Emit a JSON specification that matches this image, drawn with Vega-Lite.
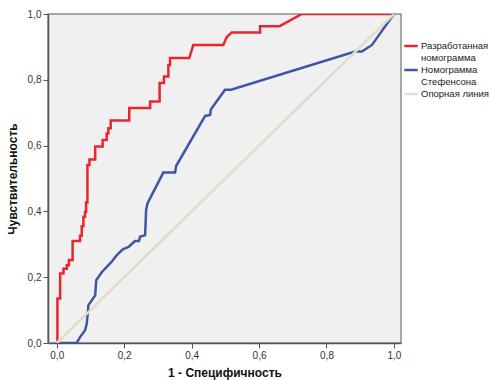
{
  "$schema": "https://vega.github.io/schema/vega-lite/v6.json",
  "width": 353,
  "height": 329,
  "autosize": {"type": "none"},
  "padding": {"left": 48, "top": 14, "right": 89, "bottom": 37},
  "background": "white",
  "config": {
    "font": "Liberation Sans",
    "view": {"fill": "#f0f0f0", "stroke": "#8c8c8c", "strokeWidth": 1.5},
    "axis": {
      "grid": false,
      "domainColor": "#555555",
      "domainWidth": 1.5,
      "tickColor": "#555555",
      "tickSize": 5,
      "labelFont": "Liberation Sans",
      "labelFontSize": 10,
      "labelColor": "#333333",
      "titleFont": "Liberation Sans",
      "titleFontSize": 12,
      "titleFontWeight": "bold",
      "titleColor": "#111111"
    },
    "legend": {
      "labelFont": "Liberation Sans",
      "labelFontSize": 9.5,
      "labelColor": "#222222",
      "labelLimit": 200
    }
  },
  "data": {
    "values": [
      {"s": "Разработанная номограмма", "i": 0, "x": 0, "y": 0},
      {"s": "Разработанная номограмма", "i": 1, "x": 0.002, "y": 0},
      {"s": "Разработанная номограмма", "i": 2, "x": 0.002, "y": 0.135},
      {"s": "Разработанная номограмма", "i": 3, "x": 0.01, "y": 0.135},
      {"s": "Разработанная номограмма", "i": 4, "x": 0.01, "y": 0.211},
      {"s": "Разработанная номограмма", "i": 5, "x": 0.02, "y": 0.211},
      {"s": "Разработанная номограмма", "i": 6, "x": 0.02, "y": 0.226},
      {"s": "Разработанная номограмма", "i": 7, "x": 0.03, "y": 0.226},
      {"s": "Разработанная номограмма", "i": 8, "x": 0.03, "y": 0.236},
      {"s": "Разработанная номограмма", "i": 9, "x": 0.036, "y": 0.236},
      {"s": "Разработанная номограмма", "i": 10, "x": 0.036, "y": 0.252},
      {"s": "Разработанная номограмма", "i": 11, "x": 0.047, "y": 0.252},
      {"s": "Разработанная номограмма", "i": 12, "x": 0.047, "y": 0.31},
      {"s": "Разработанная номограмма", "i": 13, "x": 0.069, "y": 0.31},
      {"s": "Разработанная номограмма", "i": 14, "x": 0.069, "y": 0.326},
      {"s": "Разработанная номограмма", "i": 15, "x": 0.074, "y": 0.326},
      {"s": "Разработанная номограмма", "i": 16, "x": 0.074, "y": 0.355},
      {"s": "Разработанная номограмма", "i": 17, "x": 0.079, "y": 0.355},
      {"s": "Разработанная номограмма", "i": 18, "x": 0.079, "y": 0.384},
      {"s": "Разработанная номограмма", "i": 19, "x": 0.084, "y": 0.384},
      {"s": "Разработанная номограмма", "i": 20, "x": 0.084, "y": 0.399},
      {"s": "Разработанная номограмма", "i": 21, "x": 0.087, "y": 0.399},
      {"s": "Разработанная номограмма", "i": 22, "x": 0.087, "y": 0.427},
      {"s": "Разработанная номограмма", "i": 23, "x": 0.091, "y": 0.427},
      {"s": "Разработанная номограмма", "i": 24, "x": 0.091, "y": 0.541},
      {"s": "Разработанная номограмма", "i": 25, "x": 0.097, "y": 0.541},
      {"s": "Разработанная номограмма", "i": 26, "x": 0.097, "y": 0.558},
      {"s": "Разработанная номограмма", "i": 27, "x": 0.114, "y": 0.558},
      {"s": "Разработанная номограмма", "i": 28, "x": 0.114, "y": 0.597},
      {"s": "Разработанная номограмма", "i": 29, "x": 0.136, "y": 0.597},
      {"s": "Разработанная номограмма", "i": 30, "x": 0.136, "y": 0.617},
      {"s": "Разработанная номограмма", "i": 31, "x": 0.148, "y": 0.617},
      {"s": "Разработанная номограмма", "i": 32, "x": 0.148, "y": 0.637},
      {"s": "Разработанная номограмма", "i": 33, "x": 0.153, "y": 0.637},
      {"s": "Разработанная номограмма", "i": 34, "x": 0.153, "y": 0.653},
      {"s": "Разработанная номограмма", "i": 35, "x": 0.16, "y": 0.653},
      {"s": "Разработанная номограмма", "i": 36, "x": 0.16, "y": 0.676},
      {"s": "Разработанная номограмма", "i": 37, "x": 0.215, "y": 0.676},
      {"s": "Разработанная номограмма", "i": 38, "x": 0.215, "y": 0.714},
      {"s": "Разработанная номограмма", "i": 39, "x": 0.277, "y": 0.714},
      {"s": "Разработанная номограмма", "i": 40, "x": 0.277, "y": 0.734},
      {"s": "Разработанная номограмма", "i": 41, "x": 0.305, "y": 0.734},
      {"s": "Разработанная номограмма", "i": 42, "x": 0.305, "y": 0.79},
      {"s": "Разработанная номограмма", "i": 43, "x": 0.318, "y": 0.79},
      {"s": "Разработанная номограмма", "i": 44, "x": 0.318, "y": 0.81},
      {"s": "Разработанная номограмма", "i": 45, "x": 0.331, "y": 0.81},
      {"s": "Разработанная номограмма", "i": 46, "x": 0.331, "y": 0.845},
      {"s": "Разработанная номограмма", "i": 47, "x": 0.336, "y": 0.845},
      {"s": "Разработанная номограмма", "i": 48, "x": 0.336, "y": 0.866},
      {"s": "Разработанная номограмма", "i": 49, "x": 0.393, "y": 0.866},
      {"s": "Разработанная номограмма", "i": 50, "x": 0.405, "y": 0.906},
      {"s": "Разработанная номограмма", "i": 51, "x": 0.494, "y": 0.906},
      {"s": "Разработанная номограмма", "i": 52, "x": 0.504, "y": 0.93},
      {"s": "Разработанная номограмма", "i": 53, "x": 0.519, "y": 0.944},
      {"s": "Разработанная номограмма", "i": 54, "x": 0.603, "y": 0.944},
      {"s": "Разработанная номограмма", "i": 55, "x": 0.603, "y": 0.963},
      {"s": "Разработанная номограмма", "i": 56, "x": 0.661, "y": 0.963},
      {"s": "Разработанная номограмма", "i": 57, "x": 0.727, "y": 1.0},
      {"s": "Разработанная номограмма", "i": 58, "x": 1.0, "y": 1.0},
      {"s": "Номограмма Стефенсона", "i": 0, "x": 0, "y": 0},
      {"s": "Номограмма Стефенсона", "i": 1, "x": 0.059, "y": 0},
      {"s": "Номограмма Стефенсона", "i": 2, "x": 0.069, "y": 0.018},
      {"s": "Номограмма Стефенсона", "i": 3, "x": 0.084, "y": 0.039},
      {"s": "Номограмма Стефенсона", "i": 4, "x": 0.089, "y": 0.059},
      {"s": "Номограмма Стефенсона", "i": 5, "x": 0.094, "y": 0.115},
      {"s": "Номограмма Стефенсона", "i": 6, "x": 0.104, "y": 0.13},
      {"s": "Номограмма Стефенсона", "i": 7, "x": 0.114, "y": 0.145},
      {"s": "Номограмма Стефенсона", "i": 8, "x": 0.117, "y": 0.191},
      {"s": "Номограмма Стефенсона", "i": 9, "x": 0.134, "y": 0.216},
      {"s": "Номограмма Стефенсона", "i": 10, "x": 0.163, "y": 0.247},
      {"s": "Номограмма Стефенсона", "i": 11, "x": 0.178, "y": 0.267},
      {"s": "Номограмма Стефенсона", "i": 12, "x": 0.196, "y": 0.285},
      {"s": "Номограмма Стефенсона", "i": 13, "x": 0.213, "y": 0.292},
      {"s": "Номограмма Стефенсона", "i": 14, "x": 0.232, "y": 0.31},
      {"s": "Номограмма Стефенсона", "i": 15, "x": 0.244, "y": 0.31},
      {"s": "Номограмма Стефенсона", "i": 16, "x": 0.247, "y": 0.323},
      {"s": "Номограмма Стефенсона", "i": 17, "x": 0.262, "y": 0.328},
      {"s": "Номограмма Стефенсона", "i": 18, "x": 0.265, "y": 0.404},
      {"s": "Номограмма Стефенсона", "i": 19, "x": 0.269, "y": 0.424},
      {"s": "Номограмма Стефенсона", "i": 20, "x": 0.287, "y": 0.46},
      {"s": "Номограмма Стефенсона", "i": 21, "x": 0.316, "y": 0.518},
      {"s": "Номограмма Стефенсона", "i": 22, "x": 0.351, "y": 0.518},
      {"s": "Номограмма Стефенсона", "i": 23, "x": 0.354, "y": 0.538},
      {"s": "Номограмма Стефенсона", "i": 24, "x": 0.44, "y": 0.69},
      {"s": "Номограмма Стефенсона", "i": 25, "x": 0.455, "y": 0.693},
      {"s": "Номограмма Стефенсона", "i": 26, "x": 0.457, "y": 0.71},
      {"s": "Номограмма Стефенсона", "i": 27, "x": 0.499, "y": 0.77},
      {"s": "Номограмма Стефенсона", "i": 28, "x": 0.517, "y": 0.77},
      {"s": "Номограмма Стефенсона", "i": 29, "x": 0.885, "y": 0.886},
      {"s": "Номограмма Стефенсона", "i": 30, "x": 0.905, "y": 0.886},
      {"s": "Номограмма Стефенсона", "i": 31, "x": 0.935, "y": 0.906},
      {"s": "Номограмма Стефенсона", "i": 32, "x": 1.0, "y": 1.0},
      {"s": "Опорная линия", "i": 0, "x": 0, "y": 0},
      {"s": "Опорная линия", "i": 1, "x": 1, "y": 1}
    ]
  },
  "mark": {"type": "line", "clip": true},
  "encoding": {
    "x": {
      "field": "x",
      "type": "quantitative",
      "scale": {"domain": [-0.026, 1.021], "nice": false, "zero": false},
      "axis": {
        "values": [0, 0.2, 0.4, 0.6, 0.8, 1.0],
        "labelExpr": "replace(format(datum.value, '.1f'), '.', ',')",
        "title": "1 - Специфичность",
        "titlePadding": 7,
        "labelPadding": 2
      }
    },
    "y": {
      "field": "y",
      "type": "quantitative",
      "scale": {"domain": [0, 1], "nice": false},
      "axis": {
        "values": [0, 0.2, 0.4, 0.6, 0.8, 1.0],
        "labelExpr": "replace(format(datum.value, '.1f'), '.', ',')",
        "title": "Чувствительность",
        "titlePadding": 8,
        "labelPadding": 2
      }
    },
    "color": {
      "field": "s",
      "type": "nominal",
      "scale": {
        "domain": ["Разработанная номограмма", "Номограмма Стефенсона", "Опорная линия"],
        "range": ["#e9262e", "#3e56a6", "#e0dec8"]
      },
      "legend": {
        "title": null,
        "orient": "none",
        "legendX": 355,
        "legendY": 24,
        "symbolType": "stroke",
        "symbolStrokeWidth": 2,
        "symbolSize": 180,
        "labelOffset": 2,
        "rowPadding": 0,
        "labelExpr": "datum.label == 'Опорная линия' ? datum.label : split(datum.label, ' ')",
        "padding": 0
      }
    },
    "strokeWidth": {
      "field": "s",
      "type": "nominal",
      "scale": {
        "domain": ["Разработанная номограмма", "Номограмма Стефенсона", "Опорная линия"],
        "range": [2.5, 2.5, 1]
      },
      "legend": null
    },
    "order": {"field": "i", "type": "quantitative"}
  }
}
